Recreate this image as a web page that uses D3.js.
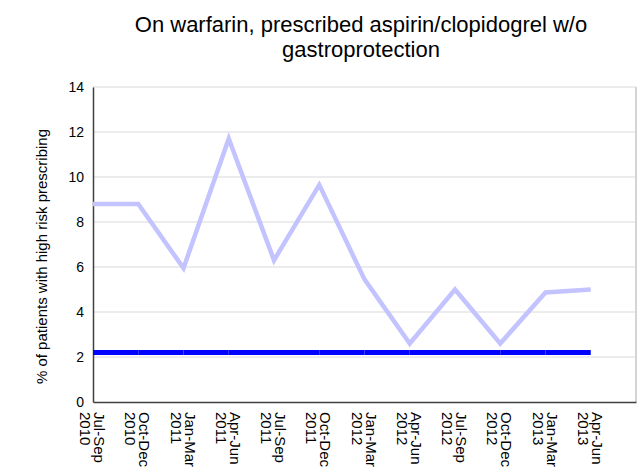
<!DOCTYPE html>
<html>
<head>
<meta charset="utf-8">
<script src="https://cdn.jsdelivr.net/npm/d3@7"></script>
<style>
  body { margin: 0; background: #fff; }
  text { font-family: "Liberation Sans", Arial, sans-serif; fill: #000; }
</style>
</head>
<body>
<div id="chart"></div>
<script>
const quarters = ["Jul-Sep", "Oct-Dec", "Jan-Mar", "Apr-Jun", "Jul-Sep", "Oct-Dec",
                  "Jan-Mar", "Apr-Jun", "Jul-Sep", "Oct-Dec", "Jan-Mar", "Apr-Jun"];
const years = ["2010", "2010", "2011", "2011", "2011", "2011",
               "2012", "2012", "2012", "2012", "2013", "2013"];
const practice_values = [8.8, 8.8, 5.95, 11.7, 6.3, 9.65, 5.45, 2.6, 5.0, 2.6, 4.87, 5.0];
const benchmark_values = [2.2, 2.2, 2.2, 2.2, 2.2, 2.2, 2.2, 2.2, 2.2, 2.2, 2.2, 2.2];
const y_ticks = [0, 2, 4, 6, 8, 10, 12, 14];

const width = 642, height = 474;
const margin = { left: 93, right: 6, top: 87, bottom: 72 };

const svg = d3.select("#chart").append("svg")
    .attr("width", width)
    .attr("height", height);

// one empty slot on the right, like the original
const x = d3.scaleLinear()
    .domain([0, quarters.length])
    .range([margin.left, width - margin.right]);
const y = d3.scaleLinear()
    .domain([0, 14])
    .range([height - margin.bottom, margin.top]);

// gridlines
svg.append("g")
    .selectAll("line")
    .data(y_ticks.slice(1))
    .enter().append("line")
    .attr("x1", x(0)).attr("x2", x(quarters.length))
    .attr("y1", d => y(d)).attr("y2", d => y(d))
    .attr("stroke", "#d9d9d9")
    .attr("stroke-width", 1);

// right border
svg.append("line")
    .attr("x1", x(quarters.length)).attr("x2", x(quarters.length))
    .attr("y1", y(14)).attr("y2", y(0))
    .attr("stroke", "#d4d4d4")
    .attr("stroke-width", 2);

// y axis
const yAxis = svg.append("g")
    .attr("transform", `translate(${margin.left},0)`)
    .call(d3.axisLeft(y).tickValues(y_ticks).tickSize(0).tickPadding(9));
yAxis.select(".domain").attr("stroke", "#404040").attr("stroke-width", 1.5);
yAxis.selectAll("text")
    .style("font-family", "Liberation Sans, Arial, sans-serif")
    .style("font-size", "14px")
    .attr("fill", "#000");

// x axis
const xAxis = svg.append("g")
    .attr("transform", `translate(0,${y(0)})`)
    .call(d3.axisBottom(x).tickValues([]).tickSize(0).tickSizeOuter(0));
xAxis.select(".domain").attr("stroke", "#404040").attr("stroke-width", 1.5);

const labels = svg.append("g")
    .selectAll("text")
    .data(quarters)
    .enter().append("text")
    .attr("transform", (d, i) => `translate(${x(i)},${y(0) + 10}) rotate(90)`)
    .style("font-size", "15px");
labels.append("tspan")
    .attr("x", 0).attr("y", -1)
    .text(d => d);
labels.append("tspan")
    .attr("x", 0).attr("y", 13)
    .text((d, i) => years[i]);

// lines
const line = d3.line()
    .x((d, i) => x(i))
    .y(d => y(d));

svg.append("path")
    .datum(practice_values)
    .attr("d", line)
    .attr("fill", "none")
    .attr("stroke", "#c3c3ff")
    .attr("stroke-width", 4.5)
    .attr("stroke-linejoin", "miter");

svg.append("g")
    .selectAll("line")
    .data(benchmark_values.slice(1))
    .enter().append("line")
    .attr("x1", (d, i) => x(i)).attr("x2", (d, i) => x(i + 1))
    .attr("y1", (d, i) => y(benchmark_values[i])).attr("y2", d => y(d))
    .attr("stroke", "#0000ff")
    .attr("stroke-width", 5);

// y axis title
svg.append("text")
    .attr("transform", `translate(47,${(y(0) + y(14)) / 2 + 12}) rotate(-90)`)
    .attr("text-anchor", "middle")
    .style("font-size", "15px")
    .text("% of patients with high risk prescribing");

// chart title
const title = svg.append("text")
    .attr("text-anchor", "middle")
    .style("font-size", "22px");
title.append("tspan").attr("x", 361).attr("y", 32)
    .text("On warfarin, prescribed aspirin/clopidogrel w/o");
title.append("tspan").attr("x", 361).attr("y", 57)
    .text("gastroprotection");
</script>
</body>
</html>
